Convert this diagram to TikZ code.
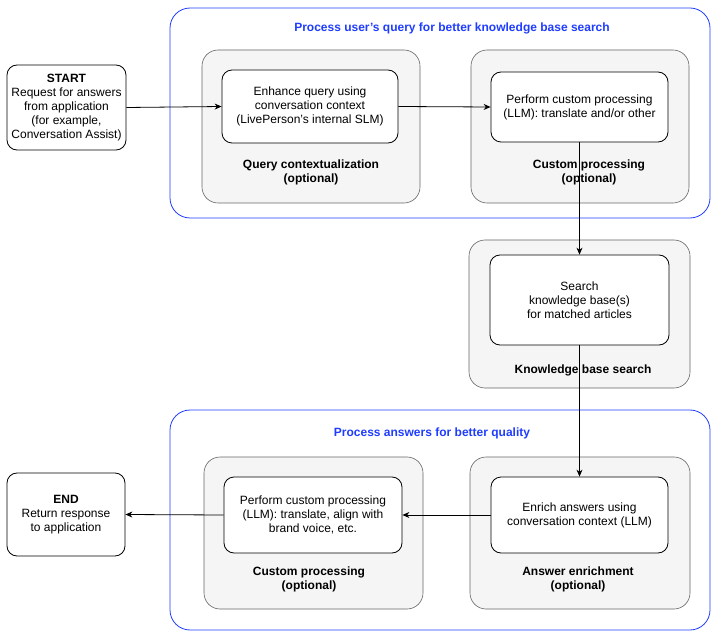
\documentclass[tikz,border=0pt]{standalone}
\usepackage{fontspec}
\setmainfont{Liberation Sans}
\usetikzlibrary{arrows.meta}
\definecolor{bl}{HTML}{1F3DFF}
\definecolor{gbg}{HTML}{F5F5F5}
\definecolor{gbd}{HTML}{666666}
\tikzset{
  grp/.style={draw=bl,rounded corners=20pt,line width=0.8pt,fill=white},
  gray/.style={draw=gbd,fill=gbg,rounded corners=16pt,line width=0.6pt},
  wb/.style={draw=black,fill=white,rounded corners=10pt,line width=0.8pt,align=center,font=\fontsize{12}{14}\selectfont},
  lbl/.style={align=center,font=\fontsize{12}{14}\selectfont\bfseries},
  ttl/.style={text=bl,font=\fontsize{12}{14}\selectfont\bfseries},
  arr/.style={-{Stealth[length=7pt,width=6pt]},line width=0.8pt}
}
\begin{document}
\begin{tikzpicture}[x=1pt,y=-1pt]
\useasboundingbox[fill=white] (0,0) rectangle (718,639);
% groups
\draw[grp] (170,8) rectangle (710,218);
\node[ttl] (t1) at (452,28) {Process user's query for better knowledge base search};
\draw[grp] (170,410) rectangle (710,630);
\node[ttl] (t2) at (432,433) {Process answers for better quality};
% gray boxes
\draw[gray] (202,50) rectangle (420,203);
\draw[gray] (471,50) rectangle (689,203);
\draw[gray] (469,240) rectangle (690,388);
\draw[gray] (204,457) rectangle (423,609);
\draw[gray] (470,457) rectangle (690,609);
% labels
\node[lbl] (l1) at (311,172) {Query contextualization\\(optional)};
\node[lbl] (l2) at (589,172) {Custom processing\\(optional)};
\node[lbl] (l3) at (583,370) {Knowledge base search};
\node[lbl] (l4) at (309,579) {Custom processing\\(optional)};
\node[lbl] (l5) at (578,579) {Answer enrichment\\(optional)};
% white boxes
\node[wb,minimum width=119pt,minimum height=85pt] (start) at (66.5,107.5) {\textbf{START}\\Request for answers\\from application\\(for example,\\Conversation Assist)};
\node[wb,minimum width=176pt,minimum height=73pt] (enh) at (310,106.5) {Enhance query using\\conversation context\\(LivePerson's internal SLM)};
\node[wb,minimum width=177pt,minimum height=70pt] (cp1) at (579.5,107) {Perform custom processing\\(LLM): translate and/or other};
\node[wb,minimum width=179pt,minimum height=90pt] (kb) at (579.5,300) {Search\\knowledge base(s)\\for matched articles};
\node[wb,minimum width=177pt,minimum height=76pt] (enr) at (579.5,515) {Enrich answers using\\conversation context (LLM)};
\node[wb,minimum width=178pt,minimum height=76pt] (cp2) at (313,515) {Perform custom processing\\(LLM): translate, align with\\brand voice, etc.};
\node[wb,minimum width=118pt,minimum height=83pt] (end) at (66,514.5) {\textbf{END}\\Return response\\to application};
% connectors
\draw[arr] (start.east) -- (enh.west);
\draw[arr] (enh.east) -- (cp1.west);
\draw[arr] (cp1.south) -- (kb.north);
\draw[arr] (kb.south) -- (enr.north);
\draw[arr] (enr.west) -- (cp2.east);
\draw[arr] (cp2.west) -- (end.east);
\end{tikzpicture}
\end{document}
